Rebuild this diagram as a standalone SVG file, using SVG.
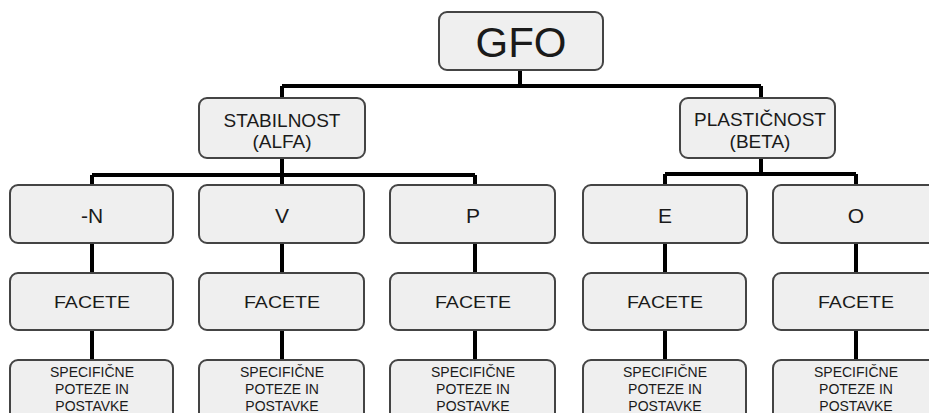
<svg xmlns="http://www.w3.org/2000/svg" width="929" height="413" viewBox="0 0 929 413">
<style>
.box{fill:#efefef;stroke:#444;stroke-width:2}
.t{font-family:"Liberation Sans",Arial,sans-serif;fill:#1a1a1a;text-anchor:middle}
.f{font-size:16px}
.s{font-size:14px}
.c{stroke:#000;stroke-width:4;fill:none}
</style>
<rect width="929" height="413" fill="#fff"/>
<g id="connectors">
<path class="c" d="M520 70V86M282 86H761M282 86V98M761 86V98"/>
<path class="c" d="M282 158V175M92 175H475M92 175V185M282 175V185M475 175V185"/>
<path class="c" d="M761 158V174M665 174H856M665 174V185M856 174V185"/>
<path class="c" d="M92 243V273M282 243V273M475 243V273M665 243V273M856 243V273"/>
<path class="c" d="M92 330V360M282 330V360M475 330V360M665 330V360M856 330V360"/>
</g>
<g id="gfo"><rect class="box" x="439" y="12" width="164" height="58" rx="8"/><text class="t" x="521" y="57" font-size="42">GFO</text></g>
<g id="stabilnost"><rect class="box" x="199" y="98" width="166" height="60" rx="8"/><text class="t" x="282" y="127" font-size="19">STABILNOST</text><text class="t" x="282" y="148" font-size="19">(ALFA)</text></g>
<g id="plasticnost"><rect class="box" x="680" y="98" width="155" height="60" rx="8"/><text class="t" x="760" y="126" font-size="19">PLASTIČNOST</text><text class="t" x="760" y="148" font-size="19">(BETA)</text></g>
<g id="n"><rect class="box" x="10" y="185" width="163" height="58" rx="8"/><text class="t" x="92" y="223" font-size="21">-N</text></g>
<g id="v"><rect class="box" x="199" y="185" width="165" height="58" rx="8"/><text class="t" x="282" y="223" font-size="21">V</text></g>
<g id="p"><rect class="box" x="390" y="185" width="165" height="58" rx="8"/><text class="t" x="473" y="223" font-size="21">P</text></g>
<g id="e"><rect class="box" x="583" y="185" width="164" height="58" rx="8"/><text class="t" x="665" y="223" font-size="21">E</text></g>
<g id="o"><rect class="box" x="773" y="185" width="170" height="58" rx="8"/><text class="t" x="856" y="223" font-size="21">O</text></g>
<g id="facete-n"><rect class="box" x="10" y="273" width="163" height="57" rx="8"/><text class="t f" x="92" y="308" textLength="76" lengthAdjust="spacingAndGlyphs">FACETE</text></g>
<g id="facete-v"><rect class="box" x="199" y="273" width="165" height="57" rx="8"/><text class="t f" x="282" y="308" textLength="76" lengthAdjust="spacingAndGlyphs">FACETE</text></g>
<g id="facete-p"><rect class="box" x="390" y="273" width="165" height="57" rx="8"/><text class="t f" x="473" y="308" textLength="76" lengthAdjust="spacingAndGlyphs">FACETE</text></g>
<g id="facete-e"><rect class="box" x="583" y="273" width="163" height="57" rx="8"/><text class="t f" x="665" y="308" textLength="76" lengthAdjust="spacingAndGlyphs">FACETE</text></g>
<g id="facete-o"><rect class="box" x="773" y="273" width="170" height="57" rx="8"/><text class="t f" x="856" y="308" textLength="76" lengthAdjust="spacingAndGlyphs">FACETE</text></g>
<g id="spec-n"><rect class="box" x="10" y="360" width="163" height="70" rx="8"/><text class="t s" x="92" y="377">SPECIFIČNE</text><text class="t s" x="92" y="394">POTEZE IN</text><text class="t s" x="92" y="411">POSTAVKE</text></g>
<g id="spec-v"><rect class="box" x="199" y="360" width="165" height="70" rx="8"/><text class="t s" x="282" y="377">SPECIFIČNE</text><text class="t s" x="282" y="394">POTEZE IN</text><text class="t s" x="282" y="411">POSTAVKE</text></g>
<g id="spec-p"><rect class="box" x="390" y="360" width="165" height="70" rx="8"/><text class="t s" x="473" y="377">SPECIFIČNE</text><text class="t s" x="473" y="394">POTEZE IN</text><text class="t s" x="473" y="411">POSTAVKE</text></g>
<g id="spec-e"><rect class="box" x="583" y="360" width="163" height="70" rx="8"/><text class="t s" x="665" y="377">SPECIFIČNE</text><text class="t s" x="665" y="394">POTEZE IN</text><text class="t s" x="665" y="411">POSTAVKE</text></g>
<g id="spec-o"><rect class="box" x="773" y="360" width="170" height="70" rx="8"/><text class="t s" x="856" y="377">SPECIFIČNE</text><text class="t s" x="856" y="394">POTEZE IN</text><text class="t s" x="856" y="411">POSTAVKE</text></g>
</svg>
